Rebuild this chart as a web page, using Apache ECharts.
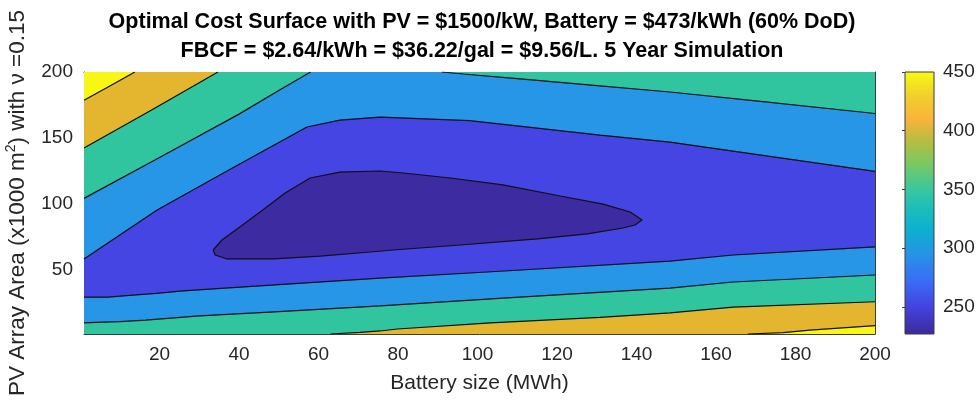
<!DOCTYPE html>
<html>
<head>
<meta charset="utf-8">
<script src="https://cdn.jsdelivr.net/npm/echarts@6/dist/echarts.min.js"></script>
<style>
  html, body { margin: 0; padding: 0; background: #fff; }
  #chart { width: 977px; height: 402px; }
</style>
</head>
<body>
<div id="chart"></div>
<script>
// Cost contour levels and the fill colour of each band (lowest band first)
const levels = [250, 300, 350, 400, 450];
const bandColors = ['#3d2ba2', '#4545e4', '#2896e7', '#31c59f', '#e4b52f', '#f8f615'];

// Axis tick labels
const batteryTicks = [20, 40, 60, 80, 100, 120, 140, 160, 180, 200];
const areaTicks = [50, 100, 150, 200];
const colorbarTicks = [250, 300, 350, 400, 450];

// Colour scale of the colour bar: [cost, colour]
const colorScale = [
  [227, '#3b2a98'], [250, '#4442df'], [272, '#3a6cf6'], [294, '#2692e6'],
  [316, '#0cb0d0'], [338, '#22c0b4'], [350, '#3ac79e'], [372, '#7bc862'],
  [394, '#c1bb3e'], [410, '#f9b43c'], [428, '#f1cd2e'], [450, '#f9f914']
];

// Contour lines, points are [battery size MWh, PV area x1000 m2]
const c250 = [
  [33.5, 64.8], [35.7, 72.4], [40.2, 82.3], [45.3, 93.7], [51.6, 108.1],
  [57.9, 119.5], [65.4, 124.0], [75.5, 124.8], [81.3, 123.3], [93.1, 119.5],
  [106.4, 114.2], [120.8, 105.8], [131.6, 99.7], [138.4, 93.7], [141.4, 87.6],
  [139.6, 83.8], [136.6, 81.5], [127.6, 77.0], [115.0, 73.2], [95.6, 68.6],
  [78.7, 64.8], [73.0, 63.3], [60.4, 60.2], [48.6, 58.0], [37.0, 58.0],
  [34.0, 61.0], [33.5, 64.8]
];
const c300Upper = [
  [1, 58], [19.4, 95.2], [38, 126.5], [57.1, 158.2], [65.4, 163.5],
  [75.5, 165.8], [98, 163], [130.8, 152.1], [148.4, 146.8], [170, 137.5], [200, 124.5]
];
const c300Lower = [
  [1, 29], [7, 29], [13.3, 30.6], [19.2, 31.9], [25.9, 33.7], [50, 38.5],
  [75.5, 43.5], [102.4, 48.1], [148.4, 56.4], [164.3, 61.0], [200, 67.1]
];
const c350UpperLeft = [[1, 104], [20, 135], [40, 168], [50, 186], [58, 200]];
const c350UpperRight = [
  [91, 200], [96.4, 198.5], [110, 195], [130.8, 189.4], [148.4, 184.8], [170, 178], [200, 168.5]
];
const c350Lower = [
  [1, 9.4], [4, 9.9], [10, 10.4], [16.5, 11.6], [30, 14.7], [50, 18],
  [75.5, 22.3], [106.4, 28.3], [148.4, 35.9], [164.3, 40.5], [200, 45.8]
];
const c400Upper = [[1, 142.3], [17.9, 171], [34.7, 200]];
const c400Lower = [
  [63, 1], [70.4, 2.2], [75.5, 3.3], [79.8, 4.8], [103.2, 9.4], [130.8, 13.7],
  [148.4, 17], [164.3, 21.4], [200, 25.5]
];
const c450Upper = [[1, 178.5], [7.5, 189.4], [13.8, 200]];
const c450Lower = [[168, 1], [176.9, 2], [183.6, 4], [200, 7.3]];

// Plot ranges
const X0 = 1, X1 = 200, Y0 = 1, Y1 = 200;
const CB0 = 227, CB1 = 450;

// ---- building the filled bands from the contour lines ----
const W = X1 - X0, H = Y1 - Y0, PER = 2 * (W + H);
const EPS = 1e-6;
// position of a border point, running counter-clockwise from the lower-left corner
function perim(p) {
  const x = p[0], y = p[1];
  if (Math.abs(y - Y0) < EPS) return x - X0;
  if (Math.abs(x - X1) < EPS) return W + (y - Y0);
  if (Math.abs(y - Y1) < EPS) return W + H + (X1 - x);
  return 2 * W + H + (Y1 - y);
}
const corners = [[W, [X1, Y0]], [W + H, [X1, Y1]], [2 * W + H, [X0, Y1]], [PER, [X0, Y0]]];
function walk(a, b) {
  const ta = perim(a);
  let tb = perim(b);
  if (tb < ta) tb += PER;
  const out = [];
  for (let k = 0; k < 2; k++) {
    for (const c of corners) {
      const t = c[0] + k * PER;
      if (t > ta && t < tb) out.push(c[1]);
    }
  }
  return out;
}
const rev = a => a.slice().reverse();
// region lying left of each piece, pieces joined along the plot border
function region(pieces) {
  const pts = [];
  pieces.forEach((pc, i) => {
    if (i > 0) pts.push(...walk(pieces[i - 1][pieces[i - 1].length - 1], pc[0]));
    pts.push(...pc);
  });
  const last = pieces[pieces.length - 1];
  pts.push(...walk(last[last.length - 1], pieces[0][0]));
  return pts;
}

const fills = [
  { color: bandColors[5], pts: [[X0, Y0], [X1, Y0], [X1, Y1], [X0, Y1]] },
  { color: bandColors[4], pts: region([c450Lower, rev(c450Upper)]) },
  { color: bandColors[3], pts: region([c400Lower, rev(c400Upper)]) },
  { color: bandColors[2], pts: region([c350Lower, rev(c350UpperRight), rev(c350UpperLeft)]) },
  { color: bandColors[1], pts: region([c300Lower, rev(c300Upper)]) },
  { color: bandColors[0], pts: c250 }
];

const contourLines = [
  c250, c300Upper, c300Lower, c350UpperLeft, c350UpperRight, c350Lower,
  c400Upper, c400Lower, c450Upper, c450Lower
];

const FONT = '"Liberation Sans", Arial, Helvetica, sans-serif';
const INK = '#262626';
const AXIS = '#3c3c3c';
const PLOT = { left: 84, right: 102, top: 72, bottom: 68, outerBoundsMode: 'none', containLabel: false };

const chart = echarts.init(document.getElementById('chart'));

const lineSeries = contourLines.map(pts => ({
  type: 'line',
  xAxisIndex: 0,
  yAxisIndex: 0,
  data: pts,
  showSymbol: false,
  symbol: 'none',
  silent: true,
  animation: false,
  z: 5,
  lineStyle: { color: '#111', width: 1.2 }
}));

const boxAxisLine = { show: true, onZero: false, lineStyle: { color: AXIS, width: 1 } };

chart.setOption({
  animation: false,
  backgroundColor: '#fff',
  title: {
    text: 'Optimal Cost Surface with PV = $1500/kW, Battery = $473/kWh (60% DoD)\nFBCF = $2.64/kWh = $36.22/gal = $9.56/L. 5 Year Simulation',
    left: 477,
    top: 3,
    textAlign: 'center',
    textStyle: { fontFamily: FONT, fontSize: 21.5, fontWeight: 'bold', color: '#000', lineHeight: 29 }
  },
  grid: [
    Object.assign({}, PLOT),
    Object.assign({}, PLOT),
    { left: 905, width: 29, top: 72, bottom: 68, outerBoundsMode: 'none', containLabel: false }
  ],
  xAxis: [
    {
      gridIndex: 0, type: 'value', min: X0, max: X1, position: 'bottom',
      name: 'Battery size (MWh)', nameLocation: 'middle', nameGap: 39,
      nameTextStyle: { fontFamily: FONT, fontSize: 21, color: INK },
      axisLine: boxAxisLine,
      axisTick: { show: true, inside: true, length: 5, customValues: batteryTicks, lineStyle: { color: AXIS } },
      axisLabel: { customValues: batteryTicks, fontFamily: FONT, fontSize: 19, color: INK, margin: 11 },
      splitLine: { show: false }
    },
    {
      gridIndex: 1, type: 'value', min: X0, max: X1, position: 'top',
      axisLine: boxAxisLine,
      axisTick: { show: true, inside: true, length: 5, customValues: batteryTicks, lineStyle: { color: AXIS } },
      axisLabel: { show: false },
      splitLine: { show: false }
    },
    {
      gridIndex: 2, type: 'value', min: 0, max: 1,
      axisLine: { show: false }, axisTick: { show: false }, axisLabel: { show: false }, splitLine: { show: false }
    }
  ],
  yAxis: [
    {
      gridIndex: 0, type: 'value', min: Y0, max: Y1, position: 'left',
      name: 'PV Array Area (x1000 m{sup|2}) with \u03bd =0.15',
      nameLocation: 'middle', nameGap: 50, nameRotate: 90,
      nameTextStyle: {
        fontFamily: FONT, fontSize: 22.5, color: INK, lineHeight: 26,
        rich: { sup: { fontFamily: FONT, fontSize: 14, color: INK, verticalAlign: 'top', lineHeight: 26, padding: [0, 0, 8, 0] } }
      },
      axisLine: boxAxisLine,
      axisTick: { show: true, inside: true, length: 5, customValues: areaTicks, lineStyle: { color: AXIS } },
      axisLabel: { customValues: areaTicks, fontFamily: FONT, fontSize: 19, color: INK, margin: 11 },
      splitLine: { show: false }
    },
    {
      gridIndex: 1, type: 'value', min: Y0, max: Y1, position: 'right',
      axisLine: boxAxisLine,
      axisTick: { show: true, inside: true, length: 5, customValues: areaTicks, lineStyle: { color: AXIS } },
      axisLabel: { show: false },
      splitLine: { show: false }
    },
    {
      gridIndex: 2, type: 'value', min: CB0, max: CB1, position: 'right',
      axisLine: { show: false },
      axisTick: { show: true, inside: true, length: 3, customValues: colorbarTicks, lineStyle: { color: AXIS } },
      axisLabel: { customValues: colorbarTicks, fontFamily: FONT, fontSize: 19, color: INK, margin: 9 },
      splitLine: { show: false }
    }
  ],
  series: [
    {
      // filled contour bands
      type: 'custom',
      xAxisIndex: 0,
      yAxisIndex: 0,
      coordinateSystem: 'cartesian2d',
      silent: true,
      clip: true,
      z: 1,
      data: fills.map(() => [X0, Y0]),
      renderItem: (params, api) => {
        const f = fills[params.dataIndex];
        return {
          type: 'polygon',
          shape: { points: f.pts.map(p => api.coord(p)) },
          style: { fill: f.color, stroke: f.color, lineWidth: 0.5 }
        };
      }
    },
    ...lineSeries,
    {
      // colour bar
      type: 'custom',
      xAxisIndex: 2,
      yAxisIndex: 2,
      coordinateSystem: 'cartesian2d',
      silent: true,
      z: 1,
      data: [[0, CB0]],
      renderItem: (params, api) => {
        const a = api.coord([0, CB0]);
        const b = api.coord([1, CB1]);
        const stops = colorScale.map(s => ({ offset: 1 - (s[0] - CB0) / (CB1 - CB0), color: s[1] }));
        stops.sort((p, q) => p.offset - q.offset);
        return {
          type: 'rect',
          shape: { x: a[0], y: b[1], width: b[0] - a[0], height: a[1] - b[1] },
          style: {
            fill: new echarts.graphic.LinearGradient(0, 0, 0, 1, stops),
            stroke: AXIS,
            lineWidth: 1
          }
        };
      }
    }
  ]
});
</script>
</body>
</html>
